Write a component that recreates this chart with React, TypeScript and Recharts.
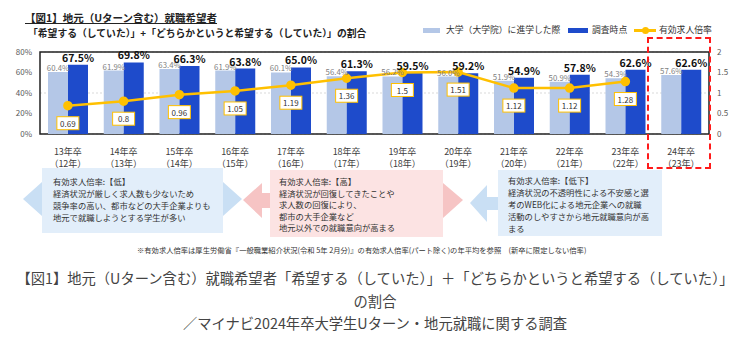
import { ComposedChart, Bar, Line, XAxis, YAxis, CartesianGrid, LabelList, ReferenceArea } from "recharts";

const years = ["13年卒", "14年卒", "15年卒", "16年卒", "17年卒", "18年卒", "19年卒", "20年卒", "21年卒", "22年卒", "23年卒", "24年卒"];
const subYears = ["（12年）", "（13年）", "（14年）", "（15年）", "（16年）", "（17年）", "（18年）", "（19年）", "（20年）", "（21年）", "（22年）", "（23年）"];
const atEntry = [60.4, 61.9, 63.4, 61.9, 60.1, 56.4, 56.2, 56.0, 51.9, 50.9, 54.3, 57.6];
const atSurvey = [67.5, 69.8, 66.3, 63.8, 65.0, 61.3, 59.5, 59.2, 54.9, 57.8, 62.6, 62.6];
const jobRatio: (number | null)[] = [0.69, 0.8, 0.96, 1.05, 1.19, 1.36, 1.5, 1.51, 1.12, 1.12, 1.28, null];
const leftTicks = [0, 20, 40, 60, 80];
const rightTicks = [0, 0.5, 1, 1.5, 2];

const data = years.map((y, i) => ({
  year: y,
  sub: subYears[i],
  entry: atEntry[i],
  survey: atSurvey[i],
  ratio: jobRatio[i],
}));

const FONT = "'Noto Sans CJK JP', 'Noto Sans', sans-serif";
const LIGHT = "#B4C7E7";
const DARK = "#1E4BCB";
const ORANGE = "#FFC000";

const YearTick = ({ x, y, payload, index }: any) => (
  <g transform={`translate(${x},${y})`}>
    <text x={0} y={13} textAnchor="middle" fontSize={9} fill="#404040" fontFamily={FONT}>
      {payload.value}
    </text>
    <text x={0} y={25} textAnchor="middle" fontSize={9} fill="#404040" fontFamily={FONT}>
      {subYears[index] ?? data.find((d) => d.year === payload.value)?.sub}
    </text>
  </g>
);

// 倍率ラベル: 点の少し下に白抜きの枠
const RatioLabel = ({ x, y, value }: any) => {
  if (value === null || value === undefined) return null;
  return (
    <g>
      <rect x={x - 11} y={y + 11} width={22} height={13} fill="#fff" stroke={ORANGE} strokeWidth={1} />
      <text x={x} y={y + 21} textAnchor="middle" fontSize={8} fill="#333" fontFamily={FONT}>
        {value}
      </text>
    </g>
  );
};

const boxText: React.CSSProperties = {
  position: "absolute",
  fontSize: 8.3,
  lineHeight: "12px",
  color: "#333",
  fontFamily: FONT,
  whiteSpace: "nowrap",
};

export default function App() {
  return (
    <div style={{ position: "absolute", left: 0, top: 0, width: 750, height: 353, background: "#fff", fontFamily: FONT, overflow: "hidden" }}>
      <div style={{ position: "absolute", left: 25, top: 10, fontSize: 10.5, fontWeight: 700, color: "#222", textDecoration: "underline", whiteSpace: "nowrap" }}>
        【図1】地元（Uターン含む）就職希望者
      </div>
      <div style={{ position: "absolute", left: 28, top: 26, fontSize: 9.8, fontWeight: 700, color: "#222", whiteSpace: "nowrap" }}>
        「希望する（していた）」+「どちらかというと希望する（していた）」の割合
      </div>

      {/* legend */}
      <div style={{ position: "absolute", left: 423, top: 28, width: 17, height: 5, background: LIGHT }} />
      <div style={{ position: "absolute", left: 446, top: 23, fontSize: 8.8, color: "#333", whiteSpace: "nowrap" }}>大学（大学院）に進学した際</div>
      <div style={{ position: "absolute", left: 568, top: 28, width: 20, height: 5, background: DARK }} />
      <div style={{ position: "absolute", left: 592, top: 23, fontSize: 8.8, color: "#333", whiteSpace: "nowrap" }}>調査時点</div>
      <div style={{ position: "absolute", left: 634, top: 29, width: 22, height: 2.5, background: ORANGE }} />
      <div style={{ position: "absolute", left: 642, top: 26.5, width: 7, height: 7, borderRadius: 4, background: ORANGE }} />
      <div style={{ position: "absolute", left: 659, top: 23, fontSize: 8.8, color: "#333", whiteSpace: "nowrap" }}>有効求人倍率</div>

      <div style={{ position: "absolute", left: 0, top: 0 }}>
        <ComposedChart width={750} height={175} data={data} margin={{ top: 52, right: 0, left: 0, bottom: 11 }} barGap={0} barSize={20}>
          <CartesianGrid yAxisId="left" vertical={false} stroke="#d9d9d9" strokeDasharray="2 2" />
          <XAxis dataKey="year" height={30} axisLine={false} tickLine={false} interval={0} tick={<YearTick />} />
          <YAxis
            yAxisId="left"
            width={40}
            domain={[0, 80]}
            ticks={leftTicks}
            axisLine={false}
            tickLine={false}
            tickFormatter={(v: number) => `${v}%`}
            tick={{ fontSize: 8, fill: "#595959", fontFamily: FONT }}
          />
          <YAxis
            yAxisId="right"
            orientation="right"
            width={41}
            domain={[0, 2]}
            ticks={rightTicks}
            axisLine={false}
            tickLine={false}
            tick={{ fontSize: 8, fill: "#595959", fontFamily: FONT }}
          />
          <Bar yAxisId="left" dataKey="entry" fill={LIGHT} isAnimationActive={false}>
            <LabelList dataKey="entry" position="top" offset={1} formatter={(v: number) => `${v.toFixed(1)}%`} fill="#7f7f7f" fontSize={7.8} fontFamily={FONT} />
          </Bar>
          <Bar yAxisId="left" dataKey="survey" fill={DARK} isAnimationActive={false}>
            <LabelList dataKey="survey" position="top" offset={3} formatter={(v: number) => `${v.toFixed(1)}%`} fill="#111" fontSize={10.5} fontWeight={700} fontFamily={FONT} />
          </Bar>
          <Line
            yAxisId="right"
            dataKey="ratio"
            stroke={ORANGE}
            strokeWidth={2.5}
            dot={{ r: 3.5, fill: ORANGE, stroke: ORANGE }}
            isAnimationActive={false}
          >
            <LabelList dataKey="ratio" content={<RatioLabel />} />
          </Line>
          <ReferenceArea yAxisId="left" y1={0} y2={80} fill="none" stroke="#222" strokeWidth={1.5} ifOverflow="visible" />
        </ComposedChart>
      </div>

      {/* highlight for latest year */}
      <div style={{ position: "absolute", left: 647, top: 37, width: 60, height: 128, border: "2px dashed #FF1A1A" }} />

      {/* callouts */}
      <svg width={750} height={353} style={{ position: "absolute", left: 0, top: 0 }}>
        <polygon points="23,199 42,182 42,216" fill="#C9DFF4" />
        <rect x={42} y={168} width={181} height={65} fill="#E2EEFA" />
        <polygon points="223,182 242,199 223,216" fill="#C9DFF4" />

        <polygon points="243,200 262,183 262,193 270,193 270,208 262,208 262,218" fill="#F6C4C4" />
        <rect x={270} y={170} width={173} height={67} fill="#FCE3E3" />
        <polygon points="443,183 463,200 443,218" fill="#F6C4C4" />

        <polygon points="470,203 487,185 487,197 498,197 498,210 487,210 487,222" fill="#C9DFF4" />
        <rect x={498} y={170} width={164} height={66} fill="#E2EEFA" />
      </svg>

      <div style={{ ...boxText, left: 53, top: 175 }}>
        有効求人倍率:【低】<br />
        経済状況が厳しく求人数も少ないため<br />
        競争率の高い、都市などの大手企業よりも<br />
        地元で就職しようとする学生が多い
      </div>
      <div style={{ ...boxText, left: 279, top: 176, lineHeight: "11.6px" }}>
        有効求人倍率:【高】<br />
        経済状況が回復してきたことや<br />
        求人数の回復により、<br />
        都市の大手企業など<br />
        地元以外での就職意向が高まる
      </div>
      <div style={{ ...boxText, left: 508, top: 174 }}>
        有効求人倍率:【低下】<br />
        経済状況の不透明性による不安感と選<br />
        考のWEB化による地元企業への就職<br />
        活動のしやすさから地元就職意向が高<br />
        まる
      </div>

      <div style={{ position: "absolute", left: 137, top: 245, fontSize: 7.3, color: "#333", whiteSpace: "nowrap" }}>
        ※有効求人倍率は厚生労働省『一般職業紹介状況(令和 5年 2月分)』の有効求人倍率(パート除く)の年平均を参照　(新卒に限定しない倍率)
      </div>

      <div style={{ position: "absolute", left: 0, top: 267, width: 750, textAlign: "center", fontSize: 14.3, lineHeight: "22.5px", color: "#444", whiteSpace: "nowrap" }}>
        【図1】地元（Uターン含む）就職希望者「希望する（していた）」＋「どちらかというと希望する（していた）」
        <br />
        の割合
        <br />
        ／マイナビ2024年卒大学生Uターン・地元就職に関する調査
      </div>
    </div>
  );
}
